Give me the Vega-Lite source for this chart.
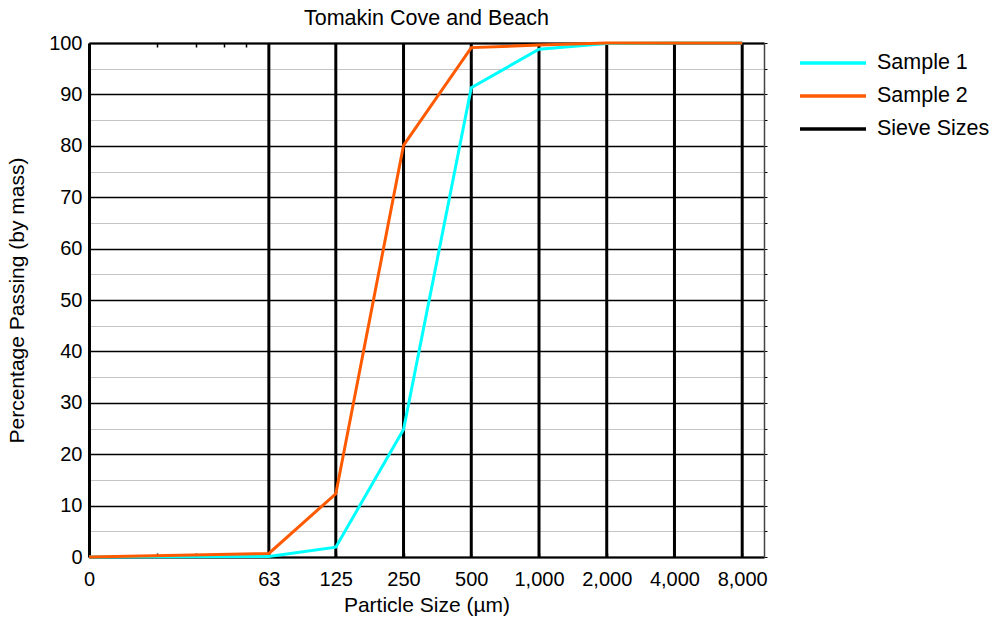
{
  "$schema": "https://vega.github.io/schema/vega-lite/v6.json",
  "width": 675,
  "height": 514,
  "autosize": {"type": "none"},
  "padding": {"left": 89, "top": 43, "right": 233, "bottom": 71},
  "background": "white",
  "config": {
    "view": {"stroke": null},
    "font": "Liberation Sans",
    "axis": {"labelFont": "Liberation Sans", "titleFont": "Liberation Sans", "labelColor": "black", "titleColor": "black", "titleFontWeight": "normal"},
    "legend": {"labelFont": "Liberation Sans"}
  },
  "title": {"text": "Tomakin Cove and Beach", "fontSize": 21.5, "fontWeight": "normal", "font": "Liberation Sans", "color": "black", "anchor": "middle", "offset": 4},
  "datasets": {
    "samples": [
      {"series": "Sample 1", "size": 10, "pct": 0},
      {"series": "Sample 1", "size": 63, "pct": 0.1},
      {"series": "Sample 1", "size": 125, "pct": 1.9},
      {"series": "Sample 1", "size": 250, "pct": 24.8},
      {"series": "Sample 1", "size": 500, "pct": 91.3},
      {"series": "Sample 1", "size": 1000, "pct": 98.8},
      {"series": "Sample 1", "size": 2000, "pct": 99.9},
      {"series": "Sample 1", "size": 4000, "pct": 100},
      {"series": "Sample 1", "size": 8000, "pct": 100},
      {"series": "Sample 2", "size": 10, "pct": 0},
      {"series": "Sample 2", "size": 63, "pct": 0.7},
      {"series": "Sample 2", "size": 125, "pct": 12.3},
      {"series": "Sample 2", "size": 250, "pct": 80.1},
      {"series": "Sample 2", "size": 500, "pct": 99.1},
      {"series": "Sample 2", "size": 1000, "pct": 99.6},
      {"series": "Sample 2", "size": 2000, "pct": 100},
      {"series": "Sample 2", "size": 4000, "pct": 100},
      {"series": "Sample 2", "size": 8000, "pct": 100}
    ],
    "sieves": [
      {"series": "Sieve Sizes", "size": 63},
      {"series": "Sieve Sizes", "size": 125},
      {"series": "Sieve Sizes", "size": 250},
      {"series": "Sieve Sizes", "size": 500},
      {"series": "Sieve Sizes", "size": 1000},
      {"series": "Sieve Sizes", "size": 2000},
      {"series": "Sieve Sizes", "size": 4000},
      {"series": "Sieve Sizes", "size": 8000}
    ]
  },
  "layer": [
    {
      "data": {"name": "sieves"},
      "mark": {"type": "rule", "strokeWidth": 3},
      "encoding": {
        "x": {
          "field": "size", "type": "quantitative",
          "scale": {"type": "log", "domain": [10, 10000], "nice": false},
          "axis": {"orient": "top", "values": [20, 30, 40, 50], "labels": false, "title": null, "grid": false, "tickSize": -4, "tickColor": "black", "tickWidth": 1.5, "domainColor": "black", "domainWidth": 2}
        },
        "y": {
          "datum": 0, "type": "quantitative",
          "scale": {"domain": [0, 100], "nice": false},
          "axis": {"orient": "right", "values": [0,5,10,15,20,25,30,35,40,45,50,55,60,65,70,75,80,85,90,95,100], "labels": false, "title": null, "grid": false, "tickSize": 3, "tickColor": "black", "tickWidth": 1, "domainColor": "#444", "domainWidth": 1.5}
        },
        "y2": {"datum": 100},
        "color": {"field": "series", "type": "nominal"}
      }
    },
    {
      "data": {"name": "samples"},
      "mark": {"type": "line", "strokeWidth": 3},
      "encoding": {
        "x": {
          "field": "size", "type": "quantitative",
          "scale": {"type": "log", "domain": [10, 10000], "nice": false},
          "axis": {
            "orient": "bottom",
            "values": [10, 20, 30, 40, 50, 63, 125, 250, 500, 1000, 2000, 4000, 8000],
            "labelExpr": "datum.value == 10 ? '0' : (datum.value < 60 ? '' : format(datum.value, ','))",
            "labelOverlap": false, "labelFlush": false,
            "labelFontSize": 20, "labelPadding": 16,
            "tickSize": -4, "tickColor": "black", "tickWidth": 1.5,
            "domainColor": "black", "domainWidth": 2, "grid": false,
            "title": "Particle Size (µm)", "titleFontSize": 21, "titlePadding": 5
          }
        },
        "y": {
          "field": "pct", "type": "quantitative",
          "scale": {"domain": [0, 100], "nice": false},
          "axis": {
            "orient": "left",
            "values": [0,5,10,15,20,25,30,35,40,45,50,55,60,65,70,75,80,85,90,95,100],
            "labelExpr": "datum.value % 10 === 0 ? datum.label : ''",
            "labelOverlap": false, "labelFontSize": 20, "labelPadding": 7,
            "ticks": false,
            "domainColor": "black", "domainWidth": 3,
            "grid": true,
            "gridColor": {"condition": {"test": "datum.value % 10 === 0", "value": "black"}, "value": "#8a8a8a"},
            "gridWidth": {"condition": {"test": "datum.value % 10 === 0", "value": 1.3}, "value": 1},
            "gridDash": {"condition": {"test": "datum.value % 10 === 0", "value": []}, "value": [1, 1]},
            "title": "Percentage Passing (by mass)", "titleFontSize": 21, "titlePadding": 21
          }
        },
        "color": {
          "field": "series", "type": "nominal",
          "scale": {"domain": ["Sample 1", "Sample 2", "Sieve Sizes"], "range": ["#00FFFF", "#FF5A00", "#000000"]},
          "legend": {
            "title": null, "orient": "none", "legendX": 732, "legendY": 8,
            "symbolType": "M-3.3,0H3.3", "symbolSize": 400, "symbolStrokeWidth": 3.5, "symbolFillColor": "transparent",
            "labelFontSize": 21.5, "labelColor": "black", "labelOffset": 32, "rowPadding": 10, "padding": 0
          }
        }
      }
    }
  ],
  "resolve": {"axis": {"x": "independent", "y": "independent"}}
}
